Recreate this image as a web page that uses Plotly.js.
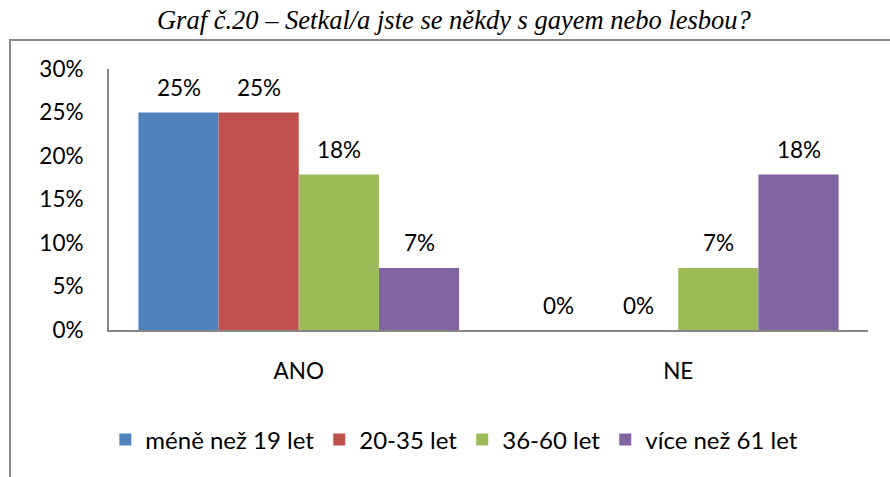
<!DOCTYPE html>
<html>
<head>
<meta charset="utf-8">
<script src="https://cdn.plot.ly/plotly-3.0.1.min.js"></script>
<style>
  html, body { margin: 0; padding: 0; background: #fff; }
  #wrap { position: relative; width: 890px; height: 477px; overflow: hidden; }
  #chart { position: absolute; left: 0; top: 0; width: 890px; height: 477px; }
  #frame { position: absolute; left: 9px; top: 39px; width: 900px; height: 500px;
           border-top: 2px solid #8a8a8a; border-left: 2px solid #8a8a8a; pointer-events: none; }
</style>
</head>
<body>
<div id="wrap">
  <div id="chart"></div>
  <div id="frame"></div>
</div>
<script>
const titleText = "Graf č.20 – Setkal/a jste se někdy s gayem nebo lesbou?";
const categories = ["ANO", "NE"];
const seriesNames = ["méně než 19 let", "20-35 let", "36-60 let", "více než 61 let"];
const seriesColors = ["#4F81BD", "#C0504D", "#9BBB59", "#8064A2"];
const valMene19 = [0.25, 0.0];
const val20_35 = [0.25, 0.0];
const val36_60 = [0.1786, 0.0714];
const valVice61 = [0.0714, 0.1786];
const seriesValues = [valMene19, val20_35, val36_60, valVice61];
const yTickVals = [0, 0.05, 0.10, 0.15, 0.20, 0.25, 0.30];
const yTickText = ["0%", "5%", "10%", "15%", "20%", "25%", "30%"];

const font = "Lato, 'Open Sans', sans-serif";
const fs = 22.5;
const bargap = 0.155;
const nS = seriesNames.length;
const bw = (1 - bargap) / nS;

const traces = seriesNames.map((name, i) => ({
  type: "bar",
  name: name,
  x: categories,
  y: seriesValues[i],
  marker: { color: seriesColors[i], line: { width: 0 } },
  hoverinfo: "skip"
}));

const annotations = [];
seriesValues.forEach((vals, i) => {
  vals.forEach((v, j) => {
    annotations.push({
      x: j + (i - (nS - 1) / 2) * bw,
      y: v,
      xref: "x", yref: "y",
      text: Math.round(v * 100) + "%",
      showarrow: false,
      yanchor: "middle",
      yshift: 25,
      font: { family: font, size: fs, color: "#000" }
    });
  });
});

const layout = {
  width: 890, height: 477,
  margin: { l: 109, r: 22, t: 69, b: 147, pad: 0 },
  paper_bgcolor: "rgba(0,0,0,0)",
  plot_bgcolor: "rgba(0,0,0,0)",
  barmode: "group",
  bargap: bargap,
  bargroupgap: 0,
  title: {
    text: "<i>" + titleText + "</i>",
    font: { family: "'Liberation Serif', 'Times New Roman', serif", size: 26.5, color: "#000" },
    x: 0.51, xanchor: "center", xref: "container",
    y: 1 - 20 / 477, yanchor: "middle", yref: "container"
  },
  xaxis: {
    type: "category",
    showline: true, linecolor: "#868686", linewidth: 2,
    ticks: "", showgrid: false, zeroline: false,
    tickfont: { family: font, size: fs, color: "#000" },
    ticklabelstandoff: 20
  },
  yaxis: {
    range: [0, 0.30],
    tickvals: yTickVals, ticktext: yTickText,
    showline: true, linecolor: "#868686", linewidth: 2,
    ticks: "", showgrid: false, zeroline: false,
    tickfont: { family: font, size: fs, color: "#000" },
    ticklabelstandoff: 19
  },
  showlegend: true,
  legend: {
    orientation: "h",
    x: 0.455, xanchor: "center",
    y: (330 - 440) / 261, yanchor: "middle",
    font: { family: font, size: 24, color: "#000" },
    bgcolor: "rgba(0,0,0,0)",
    traceorder: "normal"
  },
  annotations: annotations
};

Plotly.newPlot("chart", traces, layout, { displayModeBar: false, staticPlot: true });
</script>
</body>
</html>
